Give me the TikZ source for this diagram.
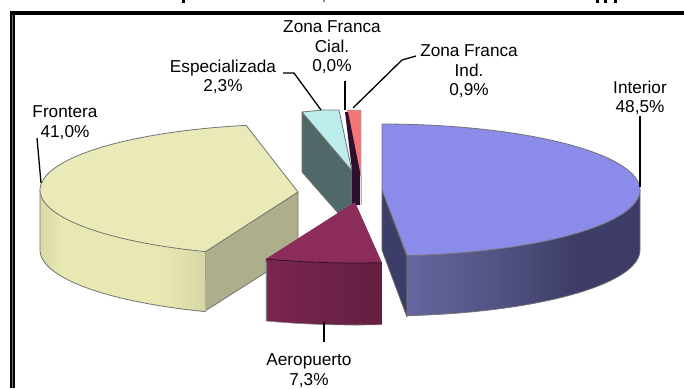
\documentclass[tikz,border=0pt]{standalone}
\usepackage{fontspec}
\setmainfont{Liberation Sans}
\pgfdeclarehorizontalshading{wallblue}{100bp}{rgb(0bp)=(0.40,0.40,0.63);rgb(25bp)=(0.40,0.40,0.63);rgb(50bp)=(0.30,0.30,0.48);rgb(62bp)=(0.235,0.235,0.40);rgb(100bp)=(0.235,0.235,0.40)}
\pgfdeclarehorizontalshading{wallyellow}{100bp}{rgb(0bp)=(0.85,0.85,0.65);rgb(25bp)=(0.85,0.85,0.65);rgb(32bp)=(0.91,0.91,0.70);rgb(62bp)=(0.91,0.91,0.70);rgb(75bp)=(0.84,0.84,0.64);rgb(100bp)=(0.84,0.84,0.64)}
\pgfdeclarehorizontalshading{wallpurple}{100bp}{rgb(0bp)=(0.48,0.15,0.31);rgb(25bp)=(0.48,0.15,0.31);rgb(75bp)=(0.39,0.12,0.26);rgb(100bp)=(0.39,0.12,0.26)}
\definecolor{topblue}{HTML}{8B8BEA}
\definecolor{sideblue}{HTML}{3D3D6A}
\definecolor{topyellow}{HTML}{EAEAB8}
\definecolor{sideyellow}{HTML}{AEAE8C}
\definecolor{toppurple}{HTML}{8B2C5A}
\definecolor{topcyan}{HTML}{BCECEC}
\definecolor{sidecyan}{HTML}{506868}
\definecolor{topred}{HTML}{F27474}
\definecolor{sliver}{HTML}{2D1030}
\tikzset{
  edge/.style={draw=black!55,line width=0.8pt,line join=round},
  leader/.style={draw=black,line width=1.3pt},
  lab/.style={inner sep=0pt,align=center,font=\fontsize{17.2}{19.5}\selectfont},
}
\begin{document}
\begin{tikzpicture}[x=1pt,y=-1pt]
\useasboundingbox (0,0) rectangle (684,388);
% clipped title descenders
\fill (119,0) arc[start angle=180,end angle=360,x radius=5,y radius=2] -- (126,0) arc[start angle=360,end angle=180,x radius=2,y radius=0.8] -- cycle;
\fill (182,0) rectangle (185,2.5);
\fill[black!45] (322.5,0) rectangle (324.5,1.5);
\fill (596,0) rectangle (598.5,3);
\fill (604,0) rectangle (607,3);
\fill (614,0) rectangle (616.5,3);
% frame
\fill[black] (10,11) rectangle (684,14.7);
\fill[black] (10,11) rectangle (14.5,388);
\fill[black!55] (11.7,15) rectangle (12.5,388);
% Frontera
\path[edge,fill=sideyellow] (205,251) -- (298,192) -- (298,252) -- (205,311) -- cycle;
\shade[shading=wallyellow] (205,251) -- plot[domain=111:180,samples=40] ({298+258*cos(\x)},{190+66*sin(\x)}) -- plot[domain=180:111,samples=40] ({298+258*cos(\x)},{250+66*sin(\x)}) -- cycle;
\draw[edge] plot[domain=111:180,samples=40] ({298+258*cos(\x)},{250+66*sin(\x)}) -- (40,190);
\draw[edge,fill=topyellow] (298,192) -- plot[domain=258.4:111,samples=60] ({298+258*cos(\x)},{190+66*sin(\x)}) -- cycle;
% Especializada
\path[edge,fill=sidecyan] (302,112) -- (352,171) -- (352,204) -- (338,213) -- (302,172) -- cycle;
\path[edge,fill=topcyan] (302,112) -- (322,110) -- (339,110) -- (352,171) -- cycle;
% Zona Franca Ind and Cial
\path[draw=black!30,line width=0.8pt,fill=topred] (347,110) -- (361,110) -- (361,176) -- (358,176) -- cycle;
\draw[black!30,line width=0.8pt] (361,176) -- (361,205);
\fill[sliver] (345,112) -- (348,112) -- (360,172) -- (360,205) -- (352,205) -- (352,170) -- cycle;
% Aeropuerto
\shade[shading=wallpurple] plot[domain=110.2:84,samples=30] ({355+258*cos(\x)},{197+66*sin(\x)}) -- plot[domain=84:110.2,samples=30] ({355+258*cos(\x)},{259+66*sin(\x)}) -- cycle;
\draw[draw=black!50,line width=0.6pt] (266,262) -- (266,321);
\draw[draw=black!50,line width=0.6pt] plot[domain=84:110.2,samples=30] ({355+258*cos(\x)},{259+66*sin(\x)});
\fill[toppurple] (355,202) -- plot[domain=84:110.2,samples=30] ({355+258*cos(\x)},{197+66*sin(\x)}) -- cycle;
\draw[draw=black!65!toppurple,line width=0.8pt] plot[domain=84:110.2,samples=30] ({355+258*cos(\x)},{197+66*sin(\x)});
% Interior
\path[edge,draw=black!60,fill=sideblue] (382,190) -- (407,257) -- (407,317) -- (382,250) -- cycle;
\shade[shading=wallblue] (407,257) -- plot[domain=84.4:0,samples=50] ({382+258*cos(\x)},{190+66*sin(\x)}) -- plot[domain=0:84.4,samples=50] ({382+258*cos(\x)},{250+66*sin(\x)}) -- cycle;
\draw[edge] (640,190) -- plot[domain=0:84.4,samples=50] ({382+258*cos(\x)},{250+66*sin(\x)}) -- (407,257);
\draw[edge,fill=topblue] (382,190) -- plot[domain=-90:84.4,samples=80] ({382+258*cos(\x)},{190+66*sin(\x)}) -- cycle;
% labels
\node[lab] (lint) at (640,98) {Interior\\48,5\%};
\node[lab] (lfro) at (65,122.5) {Frontera\\41,0\%};
\node[lab] (laer) at (309,370.5) {Aeropuerto\\7,3\%};
\node[lab] (lesp) at (223,77) {Especializada\\2,3\%};
\node[lab] (lcia) at (332,47.5) {Zona Franca\\Cial.\\0,0\%};
\node[lab] (lind) at (469,71.5) {Zona Franca\\Ind.\\0,9\%};
% leaders
\coordinate (aint) at (640,187); \coordinate (bint) at (640,116);
\coordinate (afro) at (41,183); \coordinate (bfro) at (37,138);
\coordinate (aaer) at (324,322); \coordinate (baer) at (324,342);
\coordinate (aesp) at (321,110); \coordinate (eesp) at (294,73); \coordinate (besp) at (283,73);
\coordinate (acia) at (345,110); \coordinate (bcia) at (345,81);
\coordinate (aind) at (353,108); \coordinate (eind) at (402,60); \coordinate (bind) at (416,56);
\draw[leader] (aint) -- (bint);
\draw[leader] (afro) -- (bfro);
\draw[leader] (aaer) -- (baer);
\draw[leader] (aesp) -- (eesp) -- (besp);
\draw[leader] (acia) -- (bcia);
\draw[leader] (aind) -- (eind) -- (bind);
\end{tikzpicture}
\end{document}
